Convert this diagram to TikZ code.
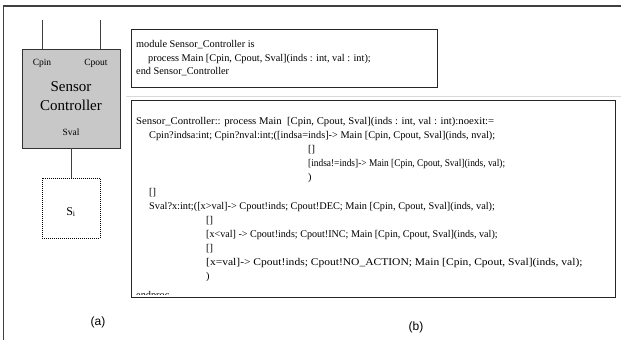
\documentclass[tikz,border=0pt]{standalone}
\usepackage{graphicx}
\usepackage{fontspec}
\setmainfont{Liberation Serif}
\newfontfamily\capfont{Liberation Sans}
\definecolor{ctrlfill}{HTML}{C8C8C8}
\definecolor{framegray}{HTML}{404040}
\newcommand{\wide}[2]{\scalebox{#1}[1]{#2}}
\begin{document}
\begin{tikzpicture}[x=1pt,y=-1pt,
  frameline/.style={draw=framegray,line width=1.3pt},
  portline/.style={draw=framegray,line width=0.9pt},
  ctrlbox/.style={draw=black!80,fill=ctrlfill,line width=0.9pt,inner sep=0pt,outer sep=0pt,
    minimum width=98pt,minimum height=99pt,anchor=north},
  sensbox/.style={draw=black,line width=0.9pt,dash pattern=on 1pt off 1pt,inner sep=0pt,outer sep=0pt,
    minimum width=58pt,minimum height=60pt,anchor=north},
  codebox/.style={draw=black!85,line width=1pt,inner sep=0pt,outer sep=0pt,anchor=north west},
  portlbl/.style={inner sep=0pt,font=\fontsize{9.5}{11}\selectfont},
  code/.style={anchor=base west,inner sep=0pt,font=\fontsize{10.3}{12}\selectfont},
  caption/.style={inner sep=0pt,font=\capfont\fontsize{12}{14}\selectfont}]
\useasboundingbox (0,0) rectangle (621,340);

% outer frame (top and left edges only)
\coordinate (frTL) at (3.5,6);
\coordinate (frTR) at (621,6);
\coordinate (frBL) at (3.5,340);
\draw[frameline] (frTR) -- (frTL) -- (frBL);

% (a) component view
\node[ctrlbox] (ctrl) at (71,49) {};
\node[portlbl] (cpin) at (42,63) {Cpin};
\node[portlbl] (cpout) at (96,63) {Cpout};
\node[inner sep=0pt,align=center,font=\fontsize{15}{19}\selectfont] (ctrlname) at (71,96) {Sensor\\Controller};
\node[portlbl] (sval) at (71,132) {Sval};
\coordinate (pinEnd) at (42,20);
\coordinate (poutEnd) at (100,20);
\draw[portline] (pinEnd) -- (pinEnd |- ctrl.north);
\draw[portline] (poutEnd) -- (poutEnd |- ctrl.north);

\node[sensbox] (sens) at (71,178) {};
\node[inner sep=0pt,font=\fontsize{12}{14}\selectfont] (senslbl) at (71,212) {S\textsubscript{i}};
\draw[portline] (ctrl.south) -- (sens.north);

\node[caption] (capa) at (98,322) {(a)};

% (b) module declaration
\node[codebox,minimum width=306pt,minimum height=58pt] (decl) at (131,29) {};
\node[code] (d1) at (136,47.5) {module Sensor\_Controller is};
\node[code] (d2) at (148,61) {process Main [Cpin, Cpout, Sval](inds : int, val : int);};
\node[code] (d3) at (136,74.5) {end Sensor\_Controller};

\coordinate (sepL) at (126,96.5);
\coordinate (sepR) at (621,96.5);
\draw[black!15,line width=0.8pt] (sepL) -- (sepR);

% (b) process body
\node[codebox,minimum width=484pt,minimum height=197pt] (body) at (131,100) {};
\node[code] (b1) at (136,124.5) {\wide{1.04}{Sensor\_Controller:: process Main\ \ [Cpin, Cpout, Sval](inds : int, val : int):noexit:=}};
\node[code] (b2) at (149,138.6) {Cpin?indsa:int; Cpin?nval:int;([indsa=inds]-> Main [Cpin, Cpout, Sval](inds, nval);};
\node[code] (b3) at (308,152.7) {[]};
\node[code] (b4) at (308,166.8) {\wide{0.91}{[indsa!=inds]-> Main [Cpin, Cpout, Sval](inds, val);}};
\node[code] (b5) at (308,180.9) {)};
\node[code] (b6) at (149,195.0) {[]};
\node[code] (b7) at (149,209.1) {Sval?x:int;([x>val]-> Cpout!inds; Cpout!DEC; Main [Cpin, Cpout, Sval](inds, val);};
\node[code] (b8) at (206,223.2) {[]};
\node[code] (b9) at (206,237.3) {\wide{0.98}{[x<val] -> Cpout!inds; Cpout!INC; Main [Cpin, Cpout, Sval](inds, val);}};
\node[code] (b10) at (206,251.4) {[]};
\node[code] (b11) at (206,265.5) {\wide{1.12}{[x=val]-> Cpout!inds; Cpout!NO\_ACTION; Main [Cpin, Cpout, Sval](inds, val);}};
\node[code] (b12) at (206,279.6) {)};
\begin{scope}
  \clip (body.north west) rectangle ([yshift=2.5pt]body.south east);
  \node[code] (b13) at (136,298.5) {endproc};
\end{scope}

\node[caption] (capb) at (416,327) {(b)};
\end{tikzpicture}
\end{document}
